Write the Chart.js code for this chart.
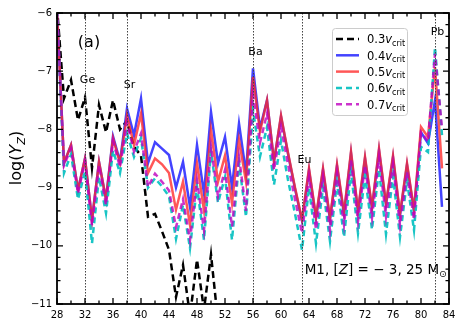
<!DOCTYPE html>
<html>
<head>
<meta charset="utf-8">
<script src="https://cdn.jsdelivr.net/npm/chart.js@4.4.0/dist/chart.umd.min.js"></script>
<style>
html, body { margin: 0; padding: 0; background: #fff; }
#wrap { width: 464px; height: 327px; position: relative; }
</style>
</head>
<body>
<div id="wrap"><canvas id="abundChart"></canvas></div>
<script>
// atomic number Z
const charge = [28, 29, 30, 31, 32, 33, 34, 35, 36, 37, 38, 39, 40, 41, 42, 43, 44, 45, 46, 47,
    48, 49, 50, 51, 52, 53, 54, 55, 56, 57, 58, 59, 60, 61, 62, 63, 64, 65, 66, 67,
    68, 69, 70, 71, 72, 73, 74, 75, 76, 77, 78, 79, 80, 81, 82, 83];

// log(Y_Z) for each rotation rate
const vc03 = [-5.9, -7.47, -7.15, -7.84, -7.45, -8.66, -7.58, -8.05, -7.5, -8.0,
    -7.85, -8.3, -8.45, -9.5, -9.45, -9.75, -10.07, -10.88, -10.33, -11.2,
    -10.24, -11.1, -10.15, -11.3];
const vc04 = [-5.95, -8.58, -8.27, -9.04, -8.5, -9.55, -8.56, -9.2, -8.12, -8.55,
    -7.64, -8.1, -7.47, -8.58, -8.22, -8.33, -8.44, -9.0, -8.56, -9.33,
    -8.27, -9.1, -7.7, -8.58, -8.13, -8.99, -7.9, -8.75, -6.95, -7.98,
    -7.5, -8.55, -7.78, -8.42, -9.02, -9.57, -8.7, -9.53, -8.7, -9.55,
    -8.63, -9.46, -8.41, -9.42, -8.5, -9.36, -8.36, -9.3, -8.48, -9.48,
    -8.61, -9.41, -8.05, -8.24, -7.5, -9.33];
const vc05 = [-5.95, -8.58, -8.27, -9.04, -8.5, -9.55, -8.56, -9.2, -8.15, -8.58,
    -7.76, -8.27, -7.73, -8.75, -8.5, -8.6, -8.75, -9.38, -8.9, -9.64,
    -8.58, -9.39, -8.01, -8.9, -8.45, -9.27, -8.18, -8.9, -7.1, -8.04,
    -7.5, -8.55, -7.76, -8.4, -9.0, -9.55, -8.67, -9.5, -8.67, -9.52,
    -8.6, -9.43, -8.38, -9.39, -8.47, -9.33, -8.33, -9.27, -8.45, -9.45,
    -8.58, -9.38, -7.96, -8.13, -6.93, -8.67];
const vc06 = [-5.95, -8.75, -8.43, -9.2, -8.72, -9.96, -8.82, -9.44, -8.36, -8.75,
    -8.07, -8.47, -8.15, -9.0, -8.84, -8.98, -9.15, -9.88, -9.3, -10.04,
    -8.98, -9.9, -8.38, -9.26, -8.82, -9.9, -8.58, -9.5, -7.67, -8.47,
    -7.96, -8.95, -8.19, -8.87, -9.45, -10.07, -9.0, -9.96, -9.0, -9.92,
    -8.92, -9.85, -8.73, -9.78, -8.8, -9.72, -8.68, -9.8, -8.8, -9.85,
    -8.88, -9.73, -8.3, -8.39, -6.59, -8.1];
const vc07 = [-5.95, -8.62, -8.33, -9.1, -8.55, -9.65, -8.62, -9.3, -8.2, -8.65,
    -7.88, -8.38, -8.07, -8.99, -8.76, -8.9, -9.05, -9.68, -9.2, -9.9,
    -8.87, -9.73, -8.3, -9.15, -8.7, -9.67, -8.47, -9.4, -7.4, -8.23,
    -7.73, -8.7, -7.96, -8.6, -9.2, -9.78, -8.82, -9.72, -8.82, -9.74,
    -8.75, -9.64, -8.53, -9.58, -8.62, -9.52, -8.48, -9.5, -8.6, -9.65,
    -8.73, -9.55, -8.05, -8.2, -6.7, -7.98];

const rateLabels = ['0.3', '0.4', '0.5', '0.6', '0.7'];

// marked elements
const markZ = [32, 38, 56, 63, 82];
const markNames = ['Ge', 'Sr', 'Ba', 'Eu', 'Pb'];

const xTicks = [28, 32, 36, 40, 44, 48, 52, 56, 60, 64, 68, 72, 76, 80, 84];
const yTicks = [-11, -10, -9, -8, -7, -6];

const FONT = "'DejaVu Sans', sans-serif";

function toPoints(vals) {
    return vals.map((v, i) => ({ x: charge[i], y: v }));
}

const styles = [
    { color: '#000000', dash: [7, 4], order: 5 },
    { color: 'rgba(20, 20, 255, 0.8)', dash: [], order: 4 },
    { color: 'rgba(255, 40, 40, 0.78)', dash: [], order: 3 },
    { color: 'rgba(0, 191, 191, 0.9)', dash: [6, 4], order: 2 },
    { color: 'rgba(191, 0, 191, 0.8)', dash: [6, 4], order: 1 }
];
const series = [vc03, vc04, vc05, vc06, vc07];

// draw text pieces (normal / italic / subscript) one after another
function richText(ctx, parts, x, y, size) {
    let cx = x;
    parts.forEach(p => {
        const s = p.sub ? size * 0.7 : size;
        ctx.font = (p.italic ? 'italic ' : '') + s + 'px ' + FONT;
        ctx.fillText(p.t, cx, p.sub ? y + size * 0.22 : y);
        cx += ctx.measureText(p.t).width;
    });
    return cx - x;
}
function richWidth(ctx, parts, size) {
    let w = 0;
    parts.forEach(p => {
        const s = p.sub ? size * 0.7 : size;
        ctx.font = (p.italic ? 'italic ' : '') + s + 'px ' + FONT;
        w += ctx.measureText(p.t).width;
    });
    return w;
}

const decorPlugin = {
    id: 'decor',
    afterDatasetsDraw(chart) {
        const ctx = chart.ctx;
        const xs = chart.scales.x, ys = chart.scales.y;
        const a = chart.chartArea;
        ctx.save();
        // dotted element markers
        ctx.strokeStyle = '#444';
        ctx.lineWidth = 1;
        ctx.setLineDash([1.5, 1.5]);
        markZ.forEach(z => {
            const px = Math.round(xs.getPixelForValue(z)) + 0.5;
            ctx.beginPath();
            ctx.moveTo(px, a.top);
            ctx.lineTo(px, a.bottom);
            ctx.stroke();
        });
        ctx.setLineDash([]);
        // element names
        const nameY = [-7.15, -7.24, -6.67, -8.53, -6.33];
        ctx.fillStyle = '#000';
        ctx.font = '11px ' + FONT;
        ctx.textAlign = 'center';
        ctx.textBaseline = 'middle';
        markZ.forEach((z, i) => {
            ctx.fillText(markNames[i], xs.getPixelForValue(z) + 2.5, ys.getPixelForValue(nameY[i]));
        });
        ctx.restore();
    },
    afterDraw(chart) {
        const ctx = chart.ctx;
        const xs = chart.scales.x, ys = chart.scales.y;
        const a = chart.chartArea;
        ctx.save();
        ctx.strokeStyle = '#000';
        ctx.lineWidth = 1.3;
        // inward ticks
        ctx.beginPath();
        for (let v = 28; v <= 84; v += 2) {
            const len = (v % 4 === 0) ? 6 : 3.5;
            const px = xs.getPixelForValue(v);
            ctx.moveTo(px, a.bottom); ctx.lineTo(px, a.bottom - len);
            ctx.moveTo(px, a.top); ctx.lineTo(px, a.top + len);
        }
        for (let k = 0; k <= 25; k++) {
            const v = -11 + k * 0.2;
            const len = (k % 5 === 0) ? 6 : 3.5;
            const py = ys.getPixelForValue(v);
            ctx.moveTo(a.left, py); ctx.lineTo(a.left + len, py);
            ctx.moveTo(a.right, py); ctx.lineTo(a.right - len, py);
        }
        ctx.stroke();
        // frame
        ctx.lineWidth = 1.8;
        ctx.strokeRect(a.left, a.top, a.right - a.left, a.bottom - a.top);

        ctx.fillStyle = '#000';

        // panel label
        ctx.font = '16px ' + FONT;
        ctx.textAlign = 'center';
        ctx.textBaseline = 'middle';
        ctx.fillText('(a)', 89, 43);
        ctx.textAlign = 'left';
        ctx.textBaseline = 'alphabetic';

        // model annotation
        const ann = [
            { t: 'M1, [' }, { t: 'Z', italic: true }, { t: '] = \u2212 3, 25 M' }, { t: '\u2299', sub: true }
        ];
        const annW = richWidth(ctx, ann, 13.5);
        richText(ctx, ann, 447 - annW, 274, 13.5);

        // y-axis title
        ctx.save();
        const yt = [{ t: 'log(' }, { t: 'Y', italic: true }, { t: 'Z', italic: true, sub: true }, { t: ')' }];
        const ytW = richWidth(ctx, yt, 16);
        ctx.translate(21, 158);
        ctx.rotate(-Math.PI / 2);
        richText(ctx, yt, -ytW / 2, 0, 16);
        ctx.restore();

        // legend
        const lx = 332, ly = 28, lw = 75, lh = 87;
        ctx.fillStyle = 'rgba(255,255,255,0.85)';
        ctx.strokeStyle = '#cccccc';
        ctx.lineWidth = 1;
        ctx.beginPath();
        ctx.roundRect(lx + 0.5, ly + 0.5, lw, lh, 3);
        ctx.fill();
        ctx.stroke();
        rateLabels.forEach((r, i) => {
            const ry = 39 + i * 16.3;
            ctx.strokeStyle = styles[i].color;
            ctx.lineWidth = 2.5;
            ctx.setLineDash(styles[i].dash);
            ctx.beginPath();
            ctx.moveTo(336, ry);
            ctx.lineTo(359, ry);
            ctx.stroke();
            ctx.setLineDash([]);
            ctx.fillStyle = '#000';
            richText(ctx, [{ t: r }, { t: 'v', italic: true }, { t: 'crit', sub: true }], 367, ry + 4.3, 11.5);
        });
        ctx.restore();
    }
};

const ctx = document.getElementById('abundChart').getContext('2d');
const abundChart = new Chart(ctx, {
    type: 'line',
    data: {
        datasets: series.map((vals, i) => ({
            label: rateLabels[i],
            data: toPoints(vals),
            borderColor: styles[i].color,
            borderDash: styles[i].dash,
            borderWidth: 2.5,
            pointRadius: 0,
            tension: 0,
            fill: false,
            order: styles[i].order
        }))
    },
    options: {
        responsive: true,
        maintainAspectRatio: false,
        animation: false,
        layout: { padding: { top: 13, right: 15, left: 0, bottom: 0 } },
        plugins: {
            legend: { display: false },
            tooltip: { enabled: false }
        },
        scales: {
            x: {
                type: 'linear',
                min: 28,
                max: 84,
                afterBuildTicks: s => { s.ticks = xTicks.map(v => ({ value: v })); },
                afterFit: s => { s.height = 23; },
                grid: { display: false, drawTicks: false },
                border: { display: false },
                ticks: {
                    autoSkip: false,
                    maxRotation: 0,
                    padding: 5,
                    color: '#000',
                    font: { family: FONT, size: 10 }
                }
            },
            y: {
                min: -11,
                max: -6,
                afterBuildTicks: s => { s.ticks = yTicks.map(v => ({ value: v })); },
                afterFit: s => { s.width = 57; },
                grid: { display: false, drawTicks: false },
                border: { display: false },
                ticks: {
                    padding: 5,
                    color: '#000',
                    font: { family: FONT, size: 10 },
                    callback: v => String(v).replace('-', '\u2212')
                }
            }
        }
    },
    plugins: [decorPlugin]
});
</script>
</body>
</html>
